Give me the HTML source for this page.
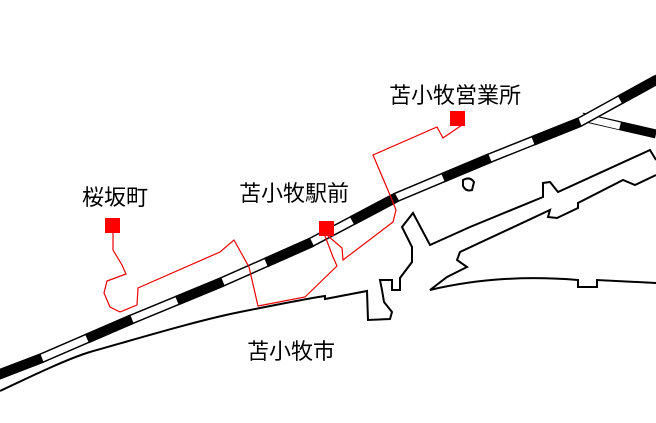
<!DOCTYPE html>
<html><head><meta charset="utf-8"><style>
html,body{margin:0;padding:0;background:#fff;}
svg{display:block;}
text{font-family:"Liberation Sans","Noto Sans CJK JP",sans-serif;font-size:22px;fill:#000;}
</style></head><body>
<svg width="656" height="423" viewBox="0 0 656 423" xmlns="http://www.w3.org/2000/svg">
<!-- coastline -->
<path d="M0,391 C40,372 70,358 90,352 C150,335 200,320 240,312 C280,304 310,298 325,296 L325,299 L367,291 L368,320 L390,319 L392,312 L388,307 L384,302 L382,290 L380,280 L392,280 L392,290 L400,290 L400,278 L412,262 L412,247 L402,227 L413,213 L430,245 L470,227 L543,197 L543,183 L550,182 L558,192 L650,150 L656,160" fill="none" stroke="#000" stroke-width="2"/>
<path d="M656,175 L635,185 L623,180 L578,203 L578,208 L557,218 L548,217 L550,210 L460,252 L457,260 L467,267 L447,277 L430,290 C480,278 530,276 578,280 L578,287 L597,287 L597,280 L656,283" fill="none" stroke="#000" stroke-width="2"/>
<path d="M463,180 Q470,176 474,182 L472,190 Q466,192 463,186 Z" fill="none" stroke="#000" stroke-width="2"/>
<!-- branch rail -->
<polyline points="582,117 656,134" fill="none" stroke="#000" stroke-width="9"/>
<polyline points="582,117 620,126" fill="none" stroke="#fff" stroke-width="7"/>
<!-- main rail -->
<polyline points="0,374 42,358 130,320 222,282 310,243 397,197 490,158 580,122 656,80" fill="none" stroke="#000" stroke-width="10"/>
<polyline points="0,374 42,358 130,320 222,282 310,243 397,197 490,158 580,122 656,80" fill="none" stroke="#fff" stroke-width="7"/>
<g stroke="#000" stroke-width="10" fill="none">
<line x1="-2" y1="375" x2="42" y2="358"/>
<polyline points="87,338.6 130,320 132,319.2"/>
<line x1="177" y1="300.6" x2="223" y2="281.6"/>
<polyline points="266,262.5 310,243 312,242"/>
<line x1="352" y1="220.8" x2="397" y2="197"/>
<line x1="443" y1="177.7" x2="490" y2="158"/>
<line x1="533" y1="140.8" x2="580" y2="122"/>
<line x1="620" y1="99.9" x2="658" y2="79"/>
</g>
<!-- red routes -->
<polyline points="113,232 113,250 122,265 126,274 107,281 104,293 110,307 120,312 137,305 138,288 220,252 234,240 249,267 258,306 305,297 337,266 333,257 325,236" fill="none" stroke="#e00" stroke-width="1.2"/>
<polyline points="327,235 342,248 343,260 393,222 396,210 390,195 373,155 437,127 443,138 462,125" fill="none" stroke="#e00" stroke-width="1.2"/>
<!-- stations -->
<rect x="105" y="218" width="15" height="15" fill="#f00"/>
<rect x="319" y="221" width="15" height="15" fill="#f00"/>
<rect x="450" y="111" width="15" height="15" fill="#f00"/>
<!-- labels -->
<text x="82" y="205">桜坂町</text>
<text x="239" y="201">苫小牧駅前</text>
<text x="389" y="103">苫小牧営業所</text>
<text x="247" y="359">苫小牧市</text>
</svg>
</body></html>
